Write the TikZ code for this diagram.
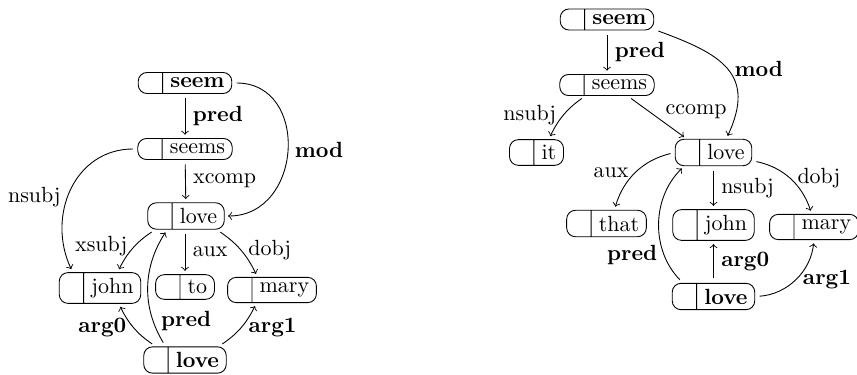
\documentclass[tikz,border=0pt]{standalone}
\usetikzlibrary{shapes.multipart}
\begin{document}
\begin{tikzpicture}[x=0.4552pt, y=0.4552pt,
  tok/.style={draw, rectangle split, rectangle split horizontal, rectangle split parts=2,
    rounded corners=4pt, inner xsep=3.3pt, inner ysep=2.5pt},
  dep/.style={->, shorten <=2pt, shorten >=1.5pt},
  sem/.style={font=\bfseries}]
\useasboundingbox (0,0) rectangle (857,-375);
\newcommand\gap{\hspace*{1.2pt}}

% left graph
\node[tok] (seemL)  at (185,-83)  {\gap\nodepart{two}\textbf{seem}};
\node[tok] (seemsL) at (185,-149) {\gap\nodepart{two}seems};
\node[tok] (loveL)  at (186,-216) {\gap\nodepart{two}love};
\node[tok] (johnL)  at (100,-288) {\gap\nodepart{two}john};
\node[tok] (toL)    at (185,-287) {\gap\nodepart{two}to};
\node[tok] (maryL)  at (272,-290) {\gap\nodepart{two}mary};
\node[tok] (loveBL) at (185,-360) {\gap\nodepart{two}\textbf{love}};

\draw[dep] (seemL) -- node[right,sem] {pred} (seemsL);
\draw[dep] (seemsL) -- node[right] {xcomp} (loveL);
\draw[dep] (seemL.east) to[out=0,in=0,looseness=1.5] node[right,sem] {mod} (loveL.east);
\draw[dep] (seemsL.west) to[out=180,in=115,looseness=1.15] node[left,pos=.55] {nsubj} (johnL.150);
\draw[dep] (loveL.204) to[bend right=15] node[left,pos=.45] {xsubj} (johnL.42);
\draw[dep] (loveL.south -| toL) -- node[right] {aux} (toL);
\draw[dep] (loveL.336) to[bend left=15] node[right] {dobj} (maryL.138);
\draw[dep] (loveBL.155) to[bend left=15] node[left,sem] {arg0} (johnL.-40);
\draw[dep] (loveBL.145) to[bend left=32] node[right,sem,pos=.22] {pred} (loveL.216);
\draw[dep] (loveBL.22) to[bend right=15] node[right,sem] {arg1} (maryL.220);

% right graph
\node[tok] (seemR)  at (607,-19.5) {\gap\nodepart{two}\textbf{seem}};
\node[tok] (seemsR) at (607,-85)   {\gap\nodepart{two}seems};
\node[tok] (itR)    at (536.5,-152.5) {\gap\nodepart{two}it};
\node[tok] (loveR)  at (713.5,-152.5) {\gap\nodepart{two}love};
\node[tok] (thatR)  at (606.5,-223.5) {\gap\nodepart{two}that};
\node[tok] (johnR)  at (713.5,-225) {\gap\nodepart{two}john};
\node[tok] (maryR)  at (814,-227)   {\gap\nodepart{two}mary};
\node[tok] (loveBR) at (713.5,-296.5) {\gap\nodepart{two}\textbf{love}};

\draw[dep] (seemR) -- node[right,sem] {pred} (seemsR);
\draw[dep] (seemR.-12) to[out=-20,in=65,looseness=1.4] node[right,sem] {mod} (loveR.47);
\draw[dep] (seemsR.207) to[bend right=15] node[left] {nsubj} (itR.47);
\draw[dep] (seemsR.-28) -- node[above right,pos=.6,inner sep=1pt] {ccomp} (loveR.153);
\draw[dep] (loveR.west) to[bend right=30] node[left] {aux} (thatR.60);
\draw[dep] (loveR) -- node[right] {nsubj} (johnR);
\draw[dep] (loveR.-12) to[bend left=30] node[right] {dobj} (maryR.100);
\draw[dep] (loveBR.156) to[bend left=45] node[left,sem,pos=.25] {pred} (loveR.205);
\draw[dep] (loveBR) -- node[right,sem] {arg0} (johnR);
\draw[dep] (loveBR.east) to[bend right=40] node[right,sem] {arg1} (maryR.south);
\end{tikzpicture}
\end{document}
